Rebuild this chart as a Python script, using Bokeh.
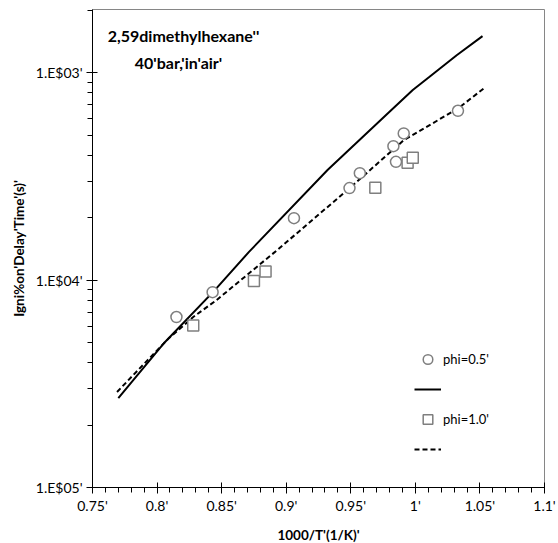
from bokeh.plotting import figure
from bokeh.models import (Range1d, FixedTicker, CustomJSTickFormatter, Label,
                          Legend, LegendItem)
from bokeh.embed import file_html
from bokeh.resources import INLINE

# ---------------- data ----------------
exp_phi05_x = [0.815, 0.843, 0.906, 0.949, 0.957, 0.985, 0.983, 0.991, 1.033]
exp_phi05_y = [6.64e-5, 8.75e-5, 1.99e-4, 2.78e-4, 3.28e-4, 3.72e-4, 4.43e-4, 5.10e-4, 6.56e-4]

exp_phi10_x = [0.828, 0.875, 0.884, 0.969, 0.994, 0.998]
exp_phi10_y = [6.04e-5, 9.92e-5, 1.10e-4, 2.79e-4, 3.68e-4, 3.89e-4]

model_phi05_x = [0.770, 0.806, 0.844, 0.871, 0.932, 0.980, 0.998, 1.011, 1.032, 1.052]
model_phi05_y = [2.70e-5, 5.02e-5, 8.85e-5, 1.365e-4, 3.40e-4, 6.49e-4, 8.26e-4, 9.57e-4, 1.216e-3, 1.503e-3]

model_phi10_x = [0.769, 0.809, 0.828, 0.846, 0.893, 0.950, 0.991, 1.033, 1.053]
model_phi10_y = [2.89e-5, 5.24e-5, 6.64e-5, 8.01e-5, 1.396e-4, 2.81e-4, 4.73e-4, 6.73e-4, 8.41e-4]

x_ticks = [0.75, 0.8, 0.85, 0.9, 0.95, 1.0, 1.05, 1.1]
x_tick_labels = ["0.75'", "0.8'", "0.85'", "0.9'", "0.95'", "1'", "1.05'", "1.1'"]
y_ticks = [1e-5, 1e-4, 1e-3]
y_tick_labels = ["1.E$05'", "1.E$04'", "1.E$03'"]

title_line1 = "2,59dimethylhexane''"
title_line2 = "40'bar,'in'air'"
x_label = "1000/T'(1/K)'"
y_label = "Igni%on'Delay'Time'(s)'"
legend_labels = ["phi=0.5'", "phi=1.0'"]

FONT = "Lato"

# ---------------- figure ----------------
p = figure(frame_width=452, frame_height=478,
           x_range=Range1d(0.75, 1.1), y_range=Range1d(1e-5, 2.02e-3),
           y_axis_type="log", output_backend="svg", toolbar_location=None,
           min_border_left=92, min_border_right=14, min_border_top=9,
           min_border_bottom=56, background_fill_color="white",
           border_fill_color="white")
p.xgrid.visible = False
p.ygrid.visible = False
p.outline_line_color = "#868686"
p.outline_line_width = 1

x_minor = [round(0.75 + 0.01 * i, 2) for i in range(36)]
x_minor = [v for v in x_minor if all(abs(v - t) > 1e-9 for t in x_ticks)]
y_minor = [k * 10.0 ** e for e in (-5, -4, -3) for k in range(2, 10) if k * 10.0 ** e <= 2.02e-3]

fmt_code = """
for (let i = 0; i < vals.length; i++) {
  if (Math.abs(vals[i] - tick) <= 1e-6 * Math.abs(vals[i])) return labs[i];
}
return "";
"""

p.xaxis.ticker = FixedTicker(ticks=x_ticks, minor_ticks=x_minor)
p.xaxis.formatter = CustomJSTickFormatter(args=dict(vals=x_ticks, labs=x_tick_labels), code=fmt_code)
p.yaxis.ticker = FixedTicker(ticks=y_ticks, minor_ticks=y_minor)
p.yaxis.formatter = CustomJSTickFormatter(args=dict(vals=y_ticks, labs=y_tick_labels), code=fmt_code)

for ax in (p.xaxis[0], p.yaxis[0]):
    ax.axis_line_color = "black"
    ax.axis_line_width = 1
    ax.major_tick_line_color = "black"
    ax.minor_tick_line_color = "black"
    ax.major_tick_in = 5
    ax.major_tick_out = 6
    ax.minor_tick_in = 0
    ax.minor_tick_out = 5
    ax.major_label_text_font = FONT
    ax.major_label_text_font_size = "14px"
    ax.major_label_text_color = "black"
    ax.axis_label_text_font = FONT
    ax.axis_label_text_font_size = "13.5px"
    ax.axis_label_text_font_style = "bold"
    ax.axis_label_text_color = "black"

p.xaxis.axis_label = x_label
p.yaxis.axis_label = y_label
p.xaxis.major_label_standoff = 3
p.xaxis.axis_label_standoff = 10
p.yaxis.major_label_standoff = 4
p.yaxis.axis_label_standoff = 6

# ---------------- glyphs ----------------
r_solid = p.line(model_phi05_x, model_phi05_y, line_color="black", line_width=2)
r_dash = p.line(model_phi10_x, model_phi10_y, line_color="black", line_width=2,
                line_dash="5 3")
r_circ = p.scatter(exp_phi05_x, exp_phi05_y, marker="circle", size=11,
                   line_color="#7f7f7f", line_width=1.5, fill_color="white")
r_sq = p.scatter(exp_phi10_x, exp_phi10_y, marker="square", size=11,
                 line_color="#7f7f7f", line_width=1.5, fill_color="white")

# ---------------- title text ----------------
p.add_layout(Label(x=91, y=452, x_units="screen", y_units="screen", text=title_line1,
                   text_font=FONT, text_font_size="16px", text_font_style="bold",
                   text_align="center", text_baseline="middle", text_color="black"))
p.add_layout(Label(x=86, y=425, x_units="screen", y_units="screen", text=title_line2,
                   text_font=FONT, text_font_size="16px", text_font_style="bold",
                   text_align="center", text_baseline="middle", text_color="black"))

# ---------------- legend ----------------
legend = Legend(items=[
    LegendItem(label=legend_labels[0], renderers=[r_circ]),
    LegendItem(label=" ", renderers=[r_solid]),
    LegendItem(label=legend_labels[1], renderers=[r_sq]),
    LegendItem(label=" ", renderers=[r_dash]),
], location=(322, 26))
legend.glyph_width = 27
legend.glyph_height = 24
legend.label_height = 24
legend.spacing = 6
legend.padding = 0
legend.margin = 0
legend.label_standoff = 2
legend.border_line_alpha = 0
legend.background_fill_alpha = 0
legend.label_text_font = FONT
legend.label_text_font_size = "13px"
legend.label_text_color = "black"
p.add_layout(legend)

open("out.html", "w").write(file_html(p, INLINE))
